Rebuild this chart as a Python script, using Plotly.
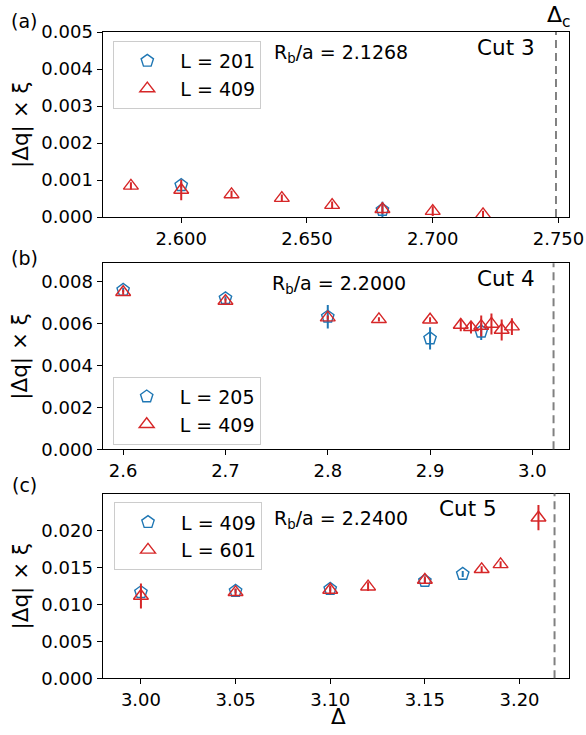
import plotly.graph_objects as go

W, H = 586, 735

# ---- data: panel (a), Cut 3, R_b/a = 2.1268
a_L1_x = [2.60, 2.68]
a_L1_y = [0.00086, 0.00019]
a_L1_e = [0.00008, 0.00022]
a_L2_x = [2.58, 2.60, 2.62, 2.64, 2.66, 2.68, 2.70, 2.72]
a_L2_y = [0.00084, 0.00073, 0.00061, 0.00051, 0.00032, 0.00021, 0.00016, 0.00007]
a_L2_e = [0.00010, 0.00028, 0.00010, 0.00010, 0.00010, 0.00012, 0.00013, 0.00010]
a_delta_c = 2.749

# ---- data: panel (b), Cut 4, R_b/a = 2.2000
b_L1_x = [2.6, 2.7, 2.8, 2.9, 2.95]
b_L1_y = [0.00759, 0.00719, 0.00631, 0.00528, 0.00560]
b_L1_e = [0.00010, 0.00010, 0.00056, 0.00053, 0.00040]
b_L2_x = [2.6, 2.7, 2.8, 2.85, 2.9, 2.93, 2.94, 2.95, 2.96, 2.97, 2.98]
b_L2_y = [0.00748, 0.00706, 0.00627, 0.00619, 0.00617, 0.00592, 0.00581,
          0.00587, 0.00597, 0.00568, 0.00584]
b_L2_e = [0.00012, 0.00012, 0.00010, 0.00010, 0.00012, 0.00030, 0.00030,
          0.00050, 0.00050, 0.00050, 0.00040]
b_delta_c = 3.0207

# ---- data: panel (c), Cut 5, R_b/a = 2.2400
c_L1_x = [3.00, 3.05, 3.10, 3.15, 3.17]
c_L1_y = [0.01162, 0.01180, 0.01207, 0.01315, 0.01410]
c_L1_e = [0.00030, 0.00030, 0.00030, 0.00040, 0.00040]
c_L2_x = [3.00, 3.05, 3.10, 3.12, 3.15, 3.18, 3.19, 3.21]
c_L2_y = [0.01112, 0.01162, 0.01193, 0.01238, 0.01328, 0.01473, 0.01540, 0.02170]
c_L2_e = [0.00170, 0.00050, 0.00060, 0.00060, 0.00050, 0.00040, 0.00040, 0.00170]
c_delta_c = 3.2185

panel_labels = ["(a)", "(b)", "(c)"]
cut_labels = ["Cut 3", "Cut 4", "Cut 5"]
rb_values = ["2.1268", "2.2000", "2.2400"]
legend_names = [("L = 201", "L = 409"), ("L = 205", "L = 409"), ("L = 409", "L = 601")]

BLUE = "#1f77b4"
RED = "#d62728"
FONT = "DejaVu Sans"


def px_x(p):
    return p / W


def px_y(p):
    return 1 - p / H


fig = go.Figure()

panels = [
    dict(L1=(a_L1_x, a_L1_y, a_L1_e), L2=(a_L2_x, a_L2_y, a_L2_e), dc=a_delta_c),
    dict(L1=(b_L1_x, b_L1_y, b_L1_e), L2=(b_L2_x, b_L2_y, b_L2_e), dc=b_delta_c),
    dict(L1=(c_L1_x, c_L1_y, c_L1_e), L2=(c_L2_x, c_L2_y, c_L2_e), dc=c_delta_c),
]
legend_ids = ["legend", "legend2", "legend3"]

for i, p in enumerate(panels):
    sfx = "" if i == 0 else str(i + 1)
    xa, ya = "x" + sfx, "y" + sfx
    for key, sym, col, name in [("L1", "pentagon-open", BLUE, legend_names[i][0]),
                                ("L2", "triangle-up-open", RED, legend_names[i][1])]:
        xs, ys, es = p[key]
        fig.add_trace(go.Scatter(
            x=xs, y=ys, mode="markers", name=name, xaxis=xa, yaxis=ya,
            legend=legend_ids[i],
            marker=dict(symbol=sym, size=13, color=col, line=dict(width=1.4, color=col)),
            error_y=dict(type="data", array=es, visible=True, color=col,
                         thickness=2, width=0),
        ))
    fig.add_shape(type="line", xref=xa, yref=ya + " domain", x0=p["dc"], x1=p["dc"],
                  y0=0, y1=1, line=dict(color="#808080", width=2, dash="8px,5px"))

x_dom = [px_x(102.5), px_x(569.3)]
y_doms = [[px_y(217), px_y(32)], [px_y(449.3), px_y(263.3)], [px_y(678.3), px_y(493.5)]]
x_ranges = [[2.5687, 2.7543], [2.5798, 3.0361], [2.9797, 3.2263]]
y_ranges = [[0, 0.005], [0, 0.008857], [0, 0.02497]]
x_ticks = [(2.6, 0.05, ".3f"), (2.6, 0.1, ".1f"), (3.0, 0.05, ".2f")]
y_dticks = [0.001, 0.002, 0.005]

axis_common = dict(showline=True, linecolor="black", linewidth=1, mirror=True,
                   ticks="outside", ticklen=5, tickwidth=1, tickcolor="black",
                   showgrid=False, zeroline=False, automargin=False,
                   tickfont=dict(family=FONT, size=18, color="black"))

layout = dict(width=W, height=H, margin=dict(l=0, r=0, t=0, b=0, autoexpand=False),
              paper_bgcolor="white", plot_bgcolor="white", showlegend=True)

for i in range(3):
    sfx = "" if i == 0 else str(i + 1)
    t0, dt, fmt = x_ticks[i]
    layout["xaxis" + sfx] = dict(domain=x_dom, range=x_ranges[i], anchor="y" + sfx,
                                 tick0=t0, dtick=dt, tickformat=fmt, **axis_common)
    layout["yaxis" + sfx] = dict(domain=y_doms[i], range=y_ranges[i], anchor="x" + sfx,
                                 tick0=0, dtick=y_dticks[i], tickformat=".3f", **axis_common)

legend_pos = [(113.3, 41), (112.7, 376.7), (114, 502.3)]
for i, lid in enumerate(legend_ids):
    lx, ly = legend_pos[i]
    layout[lid] = dict(x=px_x(lx), y=px_y(ly), xanchor="left", yanchor="top",
                       bgcolor="rgba(255,255,255,0.8)", bordercolor="#cccccc", borderwidth=1,
                       font=dict(family=FONT, size=19, color="black"), itemwidth=56)

fig.update_layout(**layout)

ann = []


def add_text(text, x, y, size, xanchor="center", yanchor="middle", angle=0):
    ann.append(dict(text=text, x=px_x(x), y=px_y(y), xref="paper", yref="paper",
                    xanchor=xanchor, yanchor=yanchor, showarrow=False, textangle=angle,
                    font=dict(family=FONT, size=size, color="black")))


panel_label_y = [21, 258, 485]
cut_pos = [(537, 47), (536.7, 278), (499, 508)]
rb_pos = [(272, 53), (270, 284), (272, 519)]
ylabel_y = [124.5, 356.3, 586]

for i in range(3):
    add_text(panel_labels[i], 24, panel_label_y[i], 19)
    add_text(cut_labels[i], cut_pos[i][0], cut_pos[i][1], 21.5, xanchor="right")
    add_text("R<sub>b</sub>/a = " + rb_values[i], rb_pos[i][0], rb_pos[i][1], 19,
             xanchor="left")
    add_text("|Δq| × ξ", 20.5, ylabel_y[i], 21.5, angle=-90)

add_text("Δ<sub>c</sub>", 545, 16, 22, xanchor="left")
add_text("Δ", 338, 716, 21.5)

fig.update_layout(annotations=ann)

fig.write_html("out.html")
